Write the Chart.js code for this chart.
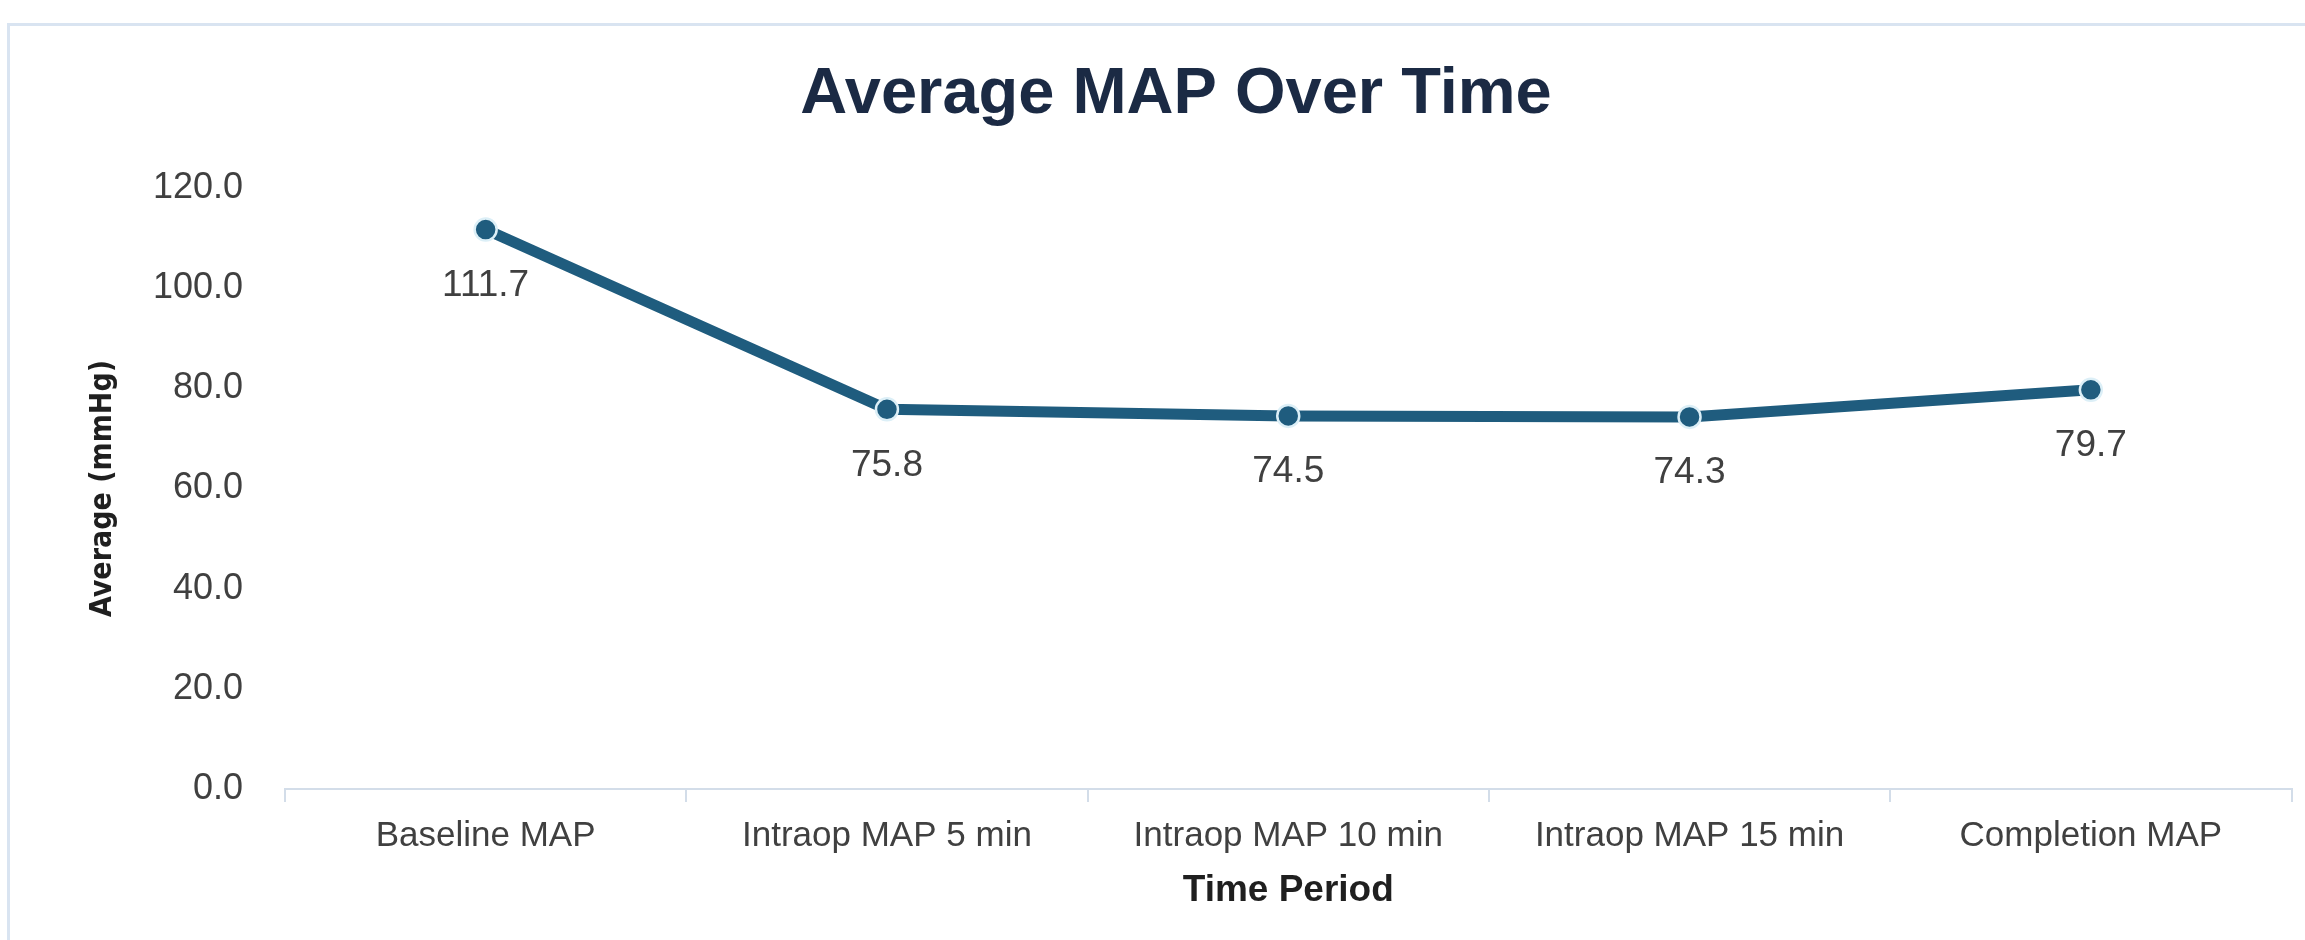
<!DOCTYPE html>
<html>
<head>
<meta charset="utf-8">
<script src="https://cdn.jsdelivr.net/npm/chart.js@4"></script>
<style>
  html, body { margin: 0; padding: 0; background: #fff; }
  #wrap { position: relative; width: 2305px; height: 940px; overflow: hidden; }
  #frame {
    position: absolute; left: 7px; top: 23px; width: 2400px; height: 1000px;
    border: 3px solid #d9e4f1; box-sizing: border-box;
  }
  #chartMap { position: absolute; left: 0; top: 0; }
</style>
</head>
<body>
<div id="wrap">
  <div id="frame"></div>
  <canvas id="chartMap" width="2305" height="940"></canvas>
</div>
<script>
// data
const categories = ['Baseline MAP', 'Intraop MAP 5 min', 'Intraop MAP 10 min', 'Intraop MAP 15 min', 'Completion MAP'];
const avgMap = [111.7, 75.8, 74.5, 74.3, 79.7];
const yMin = 0;
const yMax = 120;
const yStep = 20;

const lineColor = '#1f5c7e';
const axisColor = '#d3dde9';
const textColor = '#404040';
const sans = '"Liberation Sans", Arial, sans-serif';

// labels under each point
const valueLabels = {
  id: 'valueLabels',
  afterDatasetsDraw(chart) {
    const ctx = chart.ctx;
    const meta = chart.getDatasetMeta(0);
    ctx.save();
    ctx.font = '37px ' + sans;
    ctx.fillStyle = textColor;
    ctx.textAlign = 'center';
    ctx.textBaseline = 'middle';
    meta.data.forEach(function (pt, i) {
      ctx.fillText(avgMap[i].toFixed(1), pt.x, pt.y + 56);
    });
    ctx.restore();
  }
};

new Chart('chartMap', {
  type: 'line',
  data: {
    labels: categories,
    datasets: [{
      data: avgMap,
      borderColor: lineColor,
      borderWidth: 11,
      tension: 0,
      pointRadius: 11,
      pointBackgroundColor: lineColor,
      pointBorderColor: '#dcefF7',
      pointBorderWidth: 2.5
    }]
  },
  options: {
    responsive: false,
    animation: false,
    layout: { padding: { left: 52, right: 5, top: 0, bottom: 0 } },
    plugins: {
      legend: { display: false },
      tooltip: { enabled: false },
      title: {
        display: true,
        text: 'Average MAP Over Time',
        color: '#1b2a44',
        font: { family: sans, size: 65, weight: 'bold', lineHeight: 1.2 },
        padding: { top: 56, bottom: 54 }
      }
    },
    scales: {
      x: {
        offset: true,
        grid: {
          display: true,
          offset: true,
          drawOnChartArea: false,
          drawTicks: true,
          tickLength: 13,
          color: axisColor,
          lineWidth: 2
        },
        border: { display: true, color: axisColor, width: 2 },
        ticks: {
          color: textColor,
          padding: 13,
          maxRotation: 0,
          autoSkip: false,
          font: { family: sans, size: 35 }
        },
        title: {
          display: true,
          text: 'Time Period',
          color: '#1f1f1f',
          font: { family: sans, size: 37, weight: 'bold', lineHeight: 1.2 },
          padding: { top: 27, bottom: 27 }
        },
        afterFit(scale) { scale.height = 151; }
      },
      y: {
        min: yMin,
        max: yMax,
        grid: { display: false, drawTicks: false },
        border: { display: false },
        ticks: {
          stepSize: yStep,
          color: textColor,
          padding: 42,
          font: { family: sans, size: 36 },
          callback: function (v) { return Number(v).toFixed(1); }
        },
        title: {
          display: true,
          text: 'Average (mmHg)',
          color: '#1f1f1f',
          font: { family: '"Liberation Sans Narrow", "DejaVu Sans Condensed", ' + sans, size: 30, weight: 'bold', lineHeight: 1.2 },
          padding: { top: 33, bottom: 33 }
        },
        afterFit(scale) { scale.width = 233; }
      }
    }
  },
  plugins: [valueLabels]
});
</script>
</body>
</html>
